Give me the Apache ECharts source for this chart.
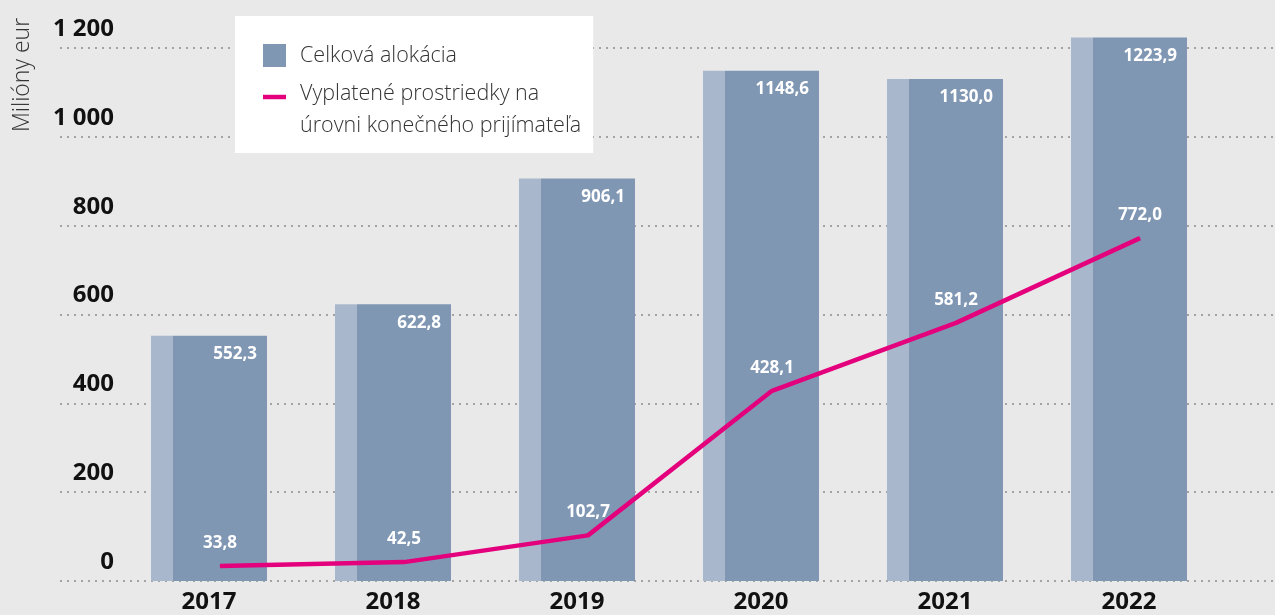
<!DOCTYPE html>
<html>
<head>
<meta charset="utf-8">
<style>
html,body{margin:0;padding:0;background:#e9e9e9;}
#chart{width:1275px;height:615px;}
</style>
<script src="https://cdn.jsdelivr.net/npm/echarts@6/dist/echarts.min.js"></script>
</head>
<body>
<div id="chart"></div>
<script>
const categories = ['2017', '2018', '2019', '2020', '2021', '2022'];
const allocation = [552.3, 622.8, 906.1, 1148.6, 1130.0, 1223.9];
const paid = [33.8, 42.5, 102.7, 428.1, 581.2, 772.0];
const yTicks = [0, 200, 400, 600, 800, 1000, 1200];
const yTickLabels = ['0', '200', '400', '600', '800', '1 000', '1 200'];
const seriesNames = ['Celková alokácia', 'Vyplatené prostriedky na\núrovni konečného prijímateľa'];
const axisTitle = 'Milióny eur';

const fmt = v => Number(v).toFixed(1).replace('.', ',');
const FONT = '"Open Sans", "Noto Sans", sans-serif';

const chart = echarts.init(document.getElementById('chart'), null, {renderer: 'canvas'});
chart.setOption({
  backgroundColor: '#e9e9e9',
  animation: false,
  textStyle: {fontFamily: FONT},
  grid: [
    {left: 128, right: 43, top: 48, bottom: 34},
    {left: 60, right: 0, top: 48, bottom: 34}
  ],
  xAxis: [
    {
      type: 'category', gridIndex: 0, data: categories,
      axisLine: {show: false}, axisTick: {show: false},
      axisLabel: {color: '#111', fontSize: 24, fontWeight: 'bold', fontFamily: FONT, margin: 9, padding: [0, 22, 0, 0]}
    },
    {type: 'category', gridIndex: 1, data: categories, show: false}
  ],
  yAxis: [
    {
      type: 'value', gridIndex: 0, min: 0, max: 1200, interval: 200,
      axisLine: {show: false}, axisTick: {show: false},
      splitLine: {show: false},
      axisLabel: {
        color: '#111', fontSize: 24, fontWeight: 'bold', fontFamily: FONT, margin: 14,
        verticalAlign: 'bottom', padding: [0, 0, 7, 0],
        formatter: v => yTickLabels[yTicks.indexOf(v)]
      }
    },
    {
      type: 'value', gridIndex: 1, min: 0, max: 1200, interval: 200,
      axisLine: {show: false}, axisTick: {show: false}, axisLabel: {show: false},
      splitLine: {show: true, lineStyle: {color: '#a3a3a3', width: 2, type: [2, 5]}}
    }
  ],
  legend: {
    left: 235, top: 16,
    orient: 'vertical',
    data: [
      {name: seriesNames[0], icon: 'rect'},
      {name: seriesNames[1], icon: 'path://M0,0 L23,0 L23,4.5 L0,4.5 Z'}
    ],
    backgroundColor: '#ffffff',
    padding: [28, 12, 16, 28],
    itemWidth: 23, itemHeight: 23, itemGap: 16,
    symbolKeepAspect: true,
    selectedMode: false,
    textStyle: {
      color: '#333', fontSize: 21.5, fontWeight: 300, fontFamily: FONT,
      padding: [0, 0, 0, 9],
      rich: {
        l1: {fontSize: 21.5, fontWeight: 300, fontFamily: FONT, color: '#333', lineHeight: 58},
        l2: {fontSize: 21.5, fontWeight: 300, fontFamily: FONT, color: '#333', lineHeight: 6}
      }
    },
    formatter: name => {
      const parts = name.split('\n');
      if (parts.length < 2) return name;
      return '{l1|' + parts[0] + '}\n{l2|' + parts[1] + '}';
    }
  },
  graphic: [
    {
      type: 'text', x: 22, y: 75, rotation: Math.PI / 2,
      style: {text: axisTitle, fill: '#333', font: '300 23px ' + FONT, align: 'center', verticalAlign: 'middle'}
    }
  ],
  series: [
    {
      name: 'side', type: 'bar', xAxisIndex: 0, yAxisIndex: 0,
      data: allocation, barWidth: 22, barGap: '0%', clip: false, silent: true,
      itemStyle: {color: '#a9b7cc'}
    },
    {
      name: seriesNames[0], type: 'bar', xAxisIndex: 0, yAxisIndex: 0,
      data: allocation, barWidth: 94, barGap: '0%', clip: false,
      itemStyle: {color: '#8097b4'},
      label: {
        show: true, position: 'insideTopRight', distance: 10,
        color: '#fff', fontSize: 17, fontWeight: 'bold', fontFamily: FONT,
        formatter: p => fmt(p.value)
      }
    },
    {
      name: 'spacer', type: 'bar', xAxisIndex: 0, yAxisIndex: 0,
      data: categories.map(() => null), barWidth: 22, barGap: '0%', silent: true
    },
    {
      name: seriesNames[1], type: 'line', xAxisIndex: 0, yAxisIndex: 0,
      data: paid, showSymbol: true, symbol: 'circle', symbolSize: 1, clip: false,
      lineStyle: {color: '#e4007c', width: 4.5},
      itemStyle: {color: '#e4007c'},
      z: 5,
      label: {
        show: true, position: 'top', distance: 14,
        color: '#fff', fontSize: 17, fontWeight: 'bold', fontFamily: FONT,
        formatter: p => fmt(p.value)
      }
    }
  ]
});
</script>
</body>
</html>
